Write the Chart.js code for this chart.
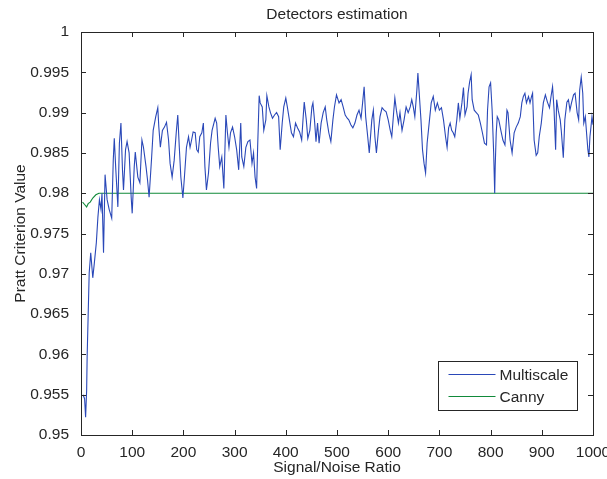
<!DOCTYPE html>
<html>
<head>
<meta charset="utf-8">
<script src="https://cdn.jsdelivr.net/npm/chart.js@4"></script>
<style>
  body { margin: 0; background: #fff; }
  #wrap { width: 607px; height: 479px; }
</style>
</head>
<body>
<div id="wrap"><canvas id="chart" width="607" height="479"></canvas></div>
<script>
const xTicks = [0, 100, 200, 300, 400, 500, 600, 700, 800, 900, 1000];
const yTicks = [0.95, 0.955, 0.96, 0.965, 0.97, 0.975, 0.98, 0.985, 0.99, 0.995, 1];

const multiscaleX = [4, 7, 9, 11, 12, 14, 16, 19, 23, 26, 30, 33, 36, 39, 41, 44, 47, 51, 55, 60,
  63, 65, 68, 72, 75, 78, 81, 83, 87, 90, 94, 98, 100, 104, 106, 111, 115, 119, 122, 127,
  130, 133, 138, 141, 146, 150, 152, 155, 159, 163, 167, 171, 174, 178, 182, 186, 189, 192, 195, 199,
  202, 206, 210, 213, 216, 219, 223, 226, 229, 232, 236, 239, 242, 245, 249, 253, 256, 262, 265, 268,
  271, 275, 279, 283, 286, 289, 292, 296, 300, 304, 308, 312, 314, 318, 322, 326, 330, 334, 337, 340,
  343, 345, 348, 350, 354, 357, 361, 363, 367, 370, 374, 378, 382, 386, 389, 393, 396, 400, 403, 407,
  411, 415, 419, 423, 427, 431, 434, 436, 440, 443, 447, 451, 453, 456, 459, 462, 465, 469, 473, 477,
  480, 484, 488, 492, 495, 499, 504, 508, 512, 516, 520, 523, 527, 531, 535, 539, 543, 547, 550, 553,
  556, 560, 563, 568, 571, 574, 577, 581, 584, 588, 592, 596, 600, 604, 607, 611, 613, 616, 620, 623,
  627, 631, 635, 639, 643, 646, 649, 652, 656, 658, 661, 664, 667, 670, 673, 676, 680, 684, 688, 692,
  696, 700, 704, 708, 712, 715, 718, 721, 724, 727, 730, 734, 737, 740, 744, 747, 750, 754, 756, 759,
  762, 764, 768, 772, 776, 780, 784, 788, 792, 794, 797, 800, 803, 806, 808, 809, 811, 813, 816, 820,
  824, 828, 832, 834, 838, 842, 846, 850, 854, 858, 861, 864, 867, 870, 874, 877, 880, 882, 885, 889,
  892, 895, 899, 903, 907, 911, 915, 918, 921, 924, 927, 929, 932, 936, 938, 942, 945, 949, 952, 955,
  958, 962, 965, 967, 969, 972, 974, 977, 980, 982, 985, 988, 990, 992, 994, 996, 998, 1000];

const multiscaleY = [0.955, 0.9545, 0.9522, 0.9555, 0.9597, 0.9649, 0.9701, 0.9726, 0.9695, 0.9713,
  0.9739, 0.977, 0.9792, 0.978, 0.98, 0.9726, 0.9823, 0.9792, 0.978, 0.9769,
  0.9841, 0.9868, 0.9829, 0.9783, 0.9862, 0.9887, 0.9829, 0.9804, 0.9854, 0.9864,
  0.985, 0.9795, 0.9775, 0.9833, 0.9851, 0.982, 0.9813, 0.9866, 0.9857, 0.9833,
  0.9816, 0.9795, 0.9845, 0.9878, 0.9895, 0.9906, 0.9882, 0.9857, 0.9878, 0.9882,
  0.9888, 0.9866, 0.9837, 0.982, 0.9841, 0.9875, 0.9897, 0.9857, 0.982, 0.9794,
  0.982, 0.9857, 0.987, 0.9857, 0.9866, 0.9876, 0.9875, 0.9854, 0.9851, 0.987,
  0.9875, 0.9887, 0.9833, 0.9804, 0.9825, 0.9862, 0.9878, 0.9893, 0.9887, 0.9857,
  0.9833, 0.9845, 0.9806, 0.9897, 0.9875, 0.9857, 0.9875, 0.9882, 0.987, 0.9854,
  0.9829, 0.9887, 0.9845, 0.9833, 0.9857, 0.9864, 0.9866, 0.9837, 0.985, 0.982,
  0.9806, 0.9857, 0.9921, 0.9912, 0.9907, 0.9878, 0.9891, 0.9921, 0.9907, 0.99,
  0.9893, 0.9897, 0.99, 0.9895, 0.9854, 0.9887, 0.9907, 0.9918, 0.9907, 0.9891,
  0.9875, 0.987, 0.9887, 0.9881, 0.9876, 0.9866, 0.9895, 0.9913, 0.9891, 0.9868,
  0.9878, 0.9907, 0.9912, 0.9891, 0.9864, 0.9887, 0.9862, 0.9887, 0.99, 0.9907,
  0.9891, 0.9875, 0.9864, 0.9891, 0.9907, 0.9922, 0.9912, 0.9916, 0.9907, 0.9897,
  0.9893, 0.9891, 0.9885, 0.9881, 0.9887, 0.9897, 0.9903, 0.9893, 0.9912, 0.9932,
  0.9895, 0.987, 0.985, 0.9891, 0.9903, 0.987, 0.985, 0.9878, 0.9895, 0.9906,
  0.9903, 0.9901, 0.9891, 0.9878, 0.987, 0.9903, 0.9918, 0.9903, 0.9887, 0.99,
  0.9878, 0.9891, 0.9907, 0.99, 0.9907, 0.9916, 0.9907, 0.9895, 0.9928, 0.9949,
  0.992, 0.9891, 0.9854, 0.9837, 0.9825, 0.9862, 0.9887, 0.9912, 0.992, 0.9903,
  0.9912, 0.9903, 0.9906, 0.9891, 0.987, 0.9857, 0.9881, 0.9887, 0.9878, 0.9875,
  0.987, 0.9891, 0.9912, 0.9893, 0.9912, 0.9931, 0.9897, 0.9907, 0.9924, 0.9938,
  0.9947, 0.9916, 0.9903, 0.99, 0.9897, 0.9887, 0.9875, 0.9862, 0.986, 0.9903,
  0.9932, 0.9937, 0.9903, 0.985, 0.98, 0.9833, 0.9875, 0.9895, 0.9891, 0.9878,
  0.9866, 0.986, 0.9903, 0.99, 0.9866, 0.985, 0.9875, 0.9882, 0.9887, 0.9895,
  0.9912, 0.992, 0.9924, 0.9912, 0.992, 0.9912, 0.992, 0.9924, 0.9866, 0.9847,
  0.985, 0.987, 0.9887, 0.9912, 0.9922, 0.9913, 0.9906, 0.992, 0.9932, 0.9903,
  0.9854, 0.9916, 0.9903, 0.9891, 0.9878, 0.9844, 0.9891, 0.9913, 0.9916, 0.9903,
  0.9912, 0.9922, 0.9924, 0.9912, 0.99, 0.9891, 0.9928, 0.9944, 0.9924, 0.9887,
  0.9895, 0.987, 0.9854, 0.9845, 0.987, 0.9882, 0.9895, 0.9885];

const cannyX = [3, 7, 11, 14, 18, 23, 29, 35, 1000];
const cannyY = [0.9789, 0.9786, 0.9783, 0.9787, 0.9789, 0.9794, 0.9798, 0.98, 0.98];

const textColor = "#262626";
const fontFamily = "'Liberation Sans', Arial, sans-serif";
const fontSize = 15.5;

function toPoints(xs, ys) {
  return xs.map((x, i) => ({ x: x, y: ys[i] }));
}

// matlab-like frame: box, inward ticks, title and legend
const matlabFrame = {
  id: "matlabFrame",
  afterDraw(chart) {
    const ctx = chart.ctx;
    const a = chart.chartArea;
    const xs = chart.scales.x;
    const ys = chart.scales.y;
    ctx.save();
    ctx.strokeStyle = textColor;
    ctx.lineWidth = 1;
    ctx.strokeRect(Math.round(a.left) + 0.5, Math.round(a.top) + 0.5,
      Math.round(a.right - a.left), Math.round(a.bottom - a.top));

    ctx.beginPath();
    xTicks.forEach(v => {
      const px = Math.round(xs.getPixelForValue(v)) + 0.5;
      ctx.moveTo(px, a.bottom); ctx.lineTo(px, a.bottom - 5);
      ctx.moveTo(px, a.top); ctx.lineTo(px, a.top + 5);
    });
    yTicks.forEach(v => {
      const py = Math.round(ys.getPixelForValue(v)) + 0.5;
      ctx.moveTo(a.left, py); ctx.lineTo(a.left + 5, py);
      ctx.moveTo(a.right, py); ctx.lineTo(a.right - 5, py);
    });
    ctx.stroke();

    // title
    ctx.fillStyle = textColor;
    ctx.font = fontSize + "px " + fontFamily;
    ctx.textAlign = "center";
    ctx.textBaseline = "middle";
    ctx.fillText("Detectors estimation", (a.left + a.right) / 2, 15);

    // legend
    const bw = 139, bh = 49;
    const bx = Math.round(a.right - 16 - bw) + 0.5;
    const by = Math.round(a.bottom - 25 - bh) + 0.5;
    ctx.fillStyle = "#fff";
    ctx.fillRect(bx, by, bw, bh);
    ctx.strokeStyle = textColor;
    ctx.strokeRect(bx, by, bw, bh);
    ctx.textAlign = "left";
    chart.data.datasets.forEach((ds, i) => {
      const ly = by + 13 + i * 22;
      ctx.strokeStyle = ds.borderColor;
      ctx.lineWidth = 1.2;
      ctx.beginPath();
      ctx.moveTo(bx + 10, ly); ctx.lineTo(bx + 57, ly);
      ctx.stroke();
      ctx.fillStyle = textColor;
      ctx.fillText(ds.label, bx + 61, ly + 1);
    });
    ctx.restore();
  }
};

const ctx = document.getElementById("chart").getContext("2d");
const chart = new Chart(ctx, {
  type: "line",
  data: {
    datasets: [{
        label: "Multiscale",
        data: toPoints(multiscaleX, multiscaleY),
        borderColor: "#2a48b8",
        borderWidth: 1.1,
        pointRadius: 0,
        tension: 0
      }, {
        label: "Canny",
        data: toPoints(cannyX, cannyY),
        borderColor: "#118a3a",
        borderWidth: 1.1,
        pointRadius: 0,
        tension: 0
      }]
  },
  options: {
    responsive: false,
    animation: false,
    layout: {
      padding: { top: 32, right: 0, left: 0, bottom: 0 }
    },
    scales: {
      x: {
        type: "linear",
        min: 0,
        max: 1000,
        afterBuildTicks: s => { s.ticks = xTicks.map(v => ({ value: v })); },
        afterFit: s => { s.height = 44; s.paddingLeft = 0; s.paddingRight = 14; },
        grid: { display: false },
        border: { display: false },
        ticks: {
          color: textColor,
          font: { size: fontSize, family: fontFamily },
          padding: 0,
          maxRotation: 0,
          callback: v => String(v)
        },
        title: {
          display: true,
          text: "Signal/Noise Ratio",
          color: textColor,
          font: { size: fontSize, family: fontFamily },
          padding: { top: 0, bottom: 2 }
        }
      },
      y: {
        type: "linear",
        min: 0.95,
        max: 1,
        afterBuildTicks: s => { s.ticks = yTicks.map(v => ({ value: v })); },
        afterFit: s => { s.width = 81; },
        grid: { display: false },
        border: { display: false },
        ticks: {
          color: textColor,
          font: { size: fontSize, family: fontFamily },
          padding: 4,
          callback: v => String(Number(v.toFixed(3)))
        },
        title: {
          display: true,
          text: "Pratt Criterion Value",
          color: textColor,
          font: { size: fontSize, family: fontFamily },
          padding: { top: 11, bottom: 0 }
        }
      }
    },
    plugins: {
      legend: { display: false },
      tooltip: { enabled: false }
    }
  },
  plugins: [matlabFrame]
});
</script>
</body>
</html>
